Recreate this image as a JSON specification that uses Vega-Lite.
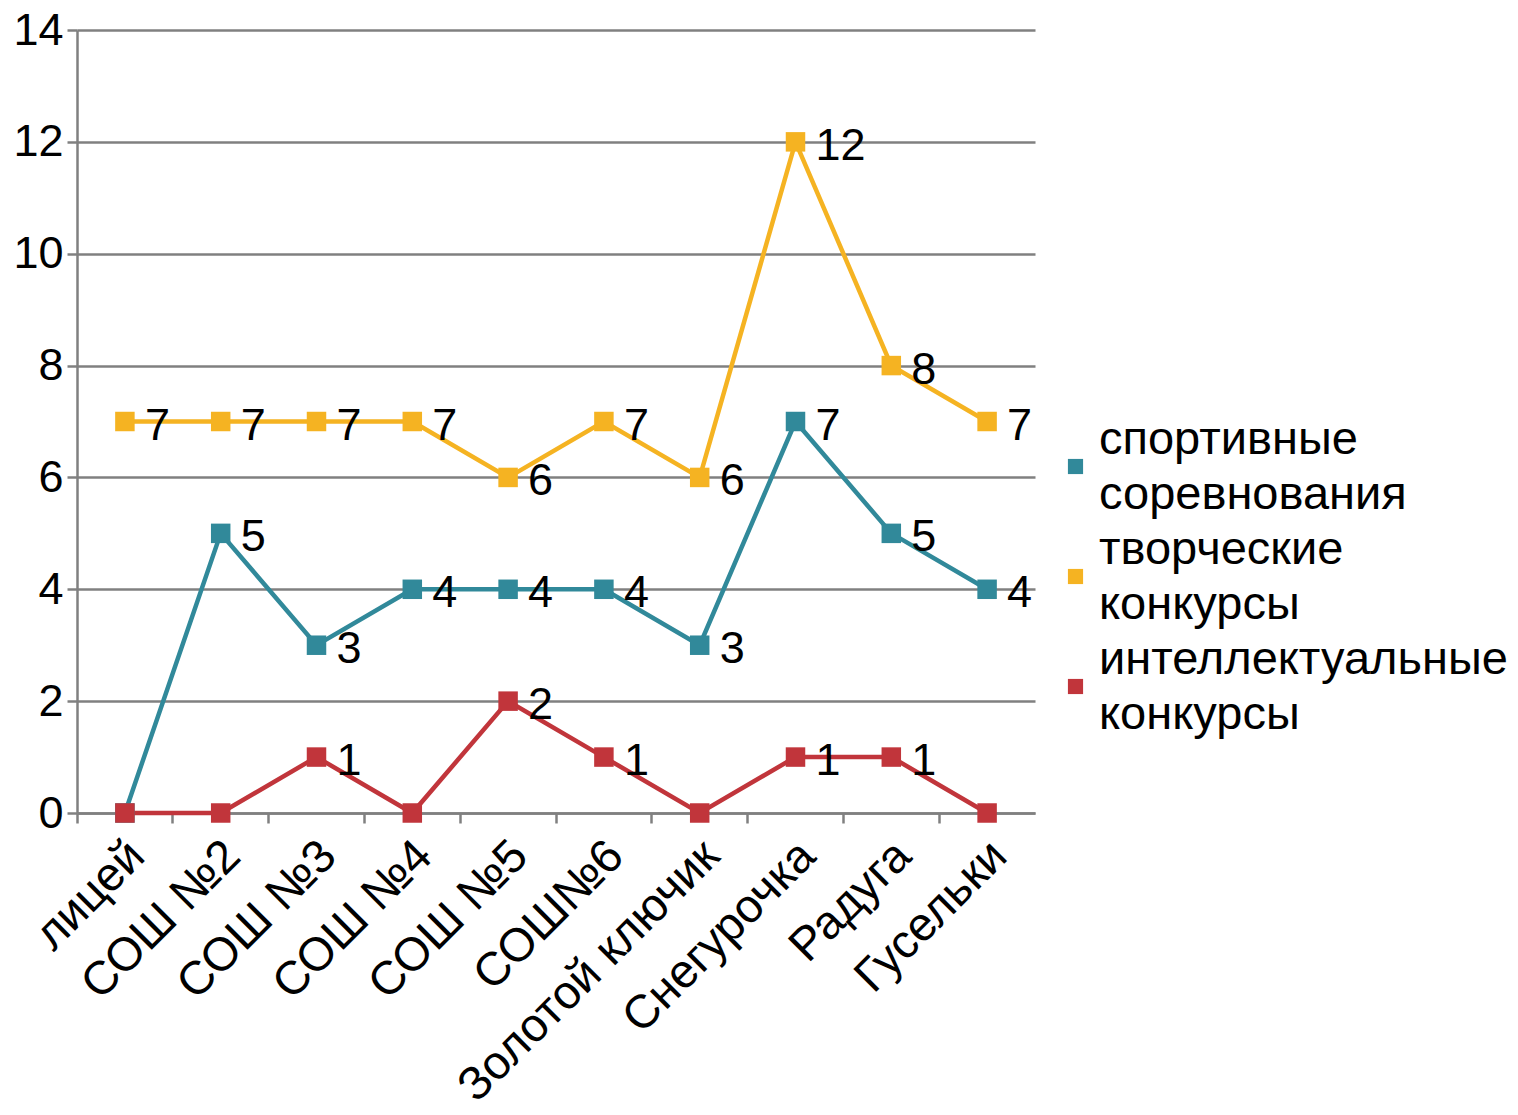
{
  "$schema": "https://vega.github.io/schema/vega-lite/v6.json",
  "width": 958,
  "height": 783,
  "autosize": {"type": "none"},
  "padding": {"left": 77, "top": 30, "right": 483, "bottom": 302},
  "background": "white",
  "config": {
    "view": {"stroke": null},
    "font": "Liberation Sans",
    "axis": {"labelFont": "Liberation Sans", "labelColor": "#000", "domainColor": "#808080", "tickColor": "#808080", "gridColor": "#808080", "domainWidth": 2.5, "tickWidth": 2.5, "gridWidth": 2.5}
  },
  "data": {
    "values": [
      {"school": "лицей", "series": "спортивные соревнования", "value": 0},
      {"school": "СОШ №2", "series": "спортивные соревнования", "value": 5},
      {"school": "СОШ №3", "series": "спортивные соревнования", "value": 3},
      {"school": "СОШ №4", "series": "спортивные соревнования", "value": 4},
      {"school": "СОШ №5", "series": "спортивные соревнования", "value": 4},
      {"school": "СОШ№6", "series": "спортивные соревнования", "value": 4},
      {"school": "Золотой ключик", "series": "спортивные соревнования", "value": 3},
      {"school": "Снегурочка", "series": "спортивные соревнования", "value": 7},
      {"school": "Радуга", "series": "спортивные соревнования", "value": 5},
      {"school": "Гусельки", "series": "спортивные соревнования", "value": 4},
      {"school": "лицей", "series": "творческие конкурсы", "value": 7},
      {"school": "СОШ №2", "series": "творческие конкурсы", "value": 7},
      {"school": "СОШ №3", "series": "творческие конкурсы", "value": 7},
      {"school": "СОШ №4", "series": "творческие конкурсы", "value": 7},
      {"school": "СОШ №5", "series": "творческие конкурсы", "value": 6},
      {"school": "СОШ№6", "series": "творческие конкурсы", "value": 7},
      {"school": "Золотой ключик", "series": "творческие конкурсы", "value": 6},
      {"school": "Снегурочка", "series": "творческие конкурсы", "value": 12},
      {"school": "Радуга", "series": "творческие конкурсы", "value": 8},
      {"school": "Гусельки", "series": "творческие конкурсы", "value": 7},
      {"school": "лицей", "series": "интеллектуальные конкурсы", "value": 0},
      {"school": "СОШ №2", "series": "интеллектуальные конкурсы", "value": 0},
      {"school": "СОШ №3", "series": "интеллектуальные конкурсы", "value": 1},
      {"school": "СОШ №4", "series": "интеллектуальные конкурсы", "value": 0},
      {"school": "СОШ №5", "series": "интеллектуальные конкурсы", "value": 2},
      {"school": "СОШ№6", "series": "интеллектуальные конкурсы", "value": 1},
      {"school": "Золотой ключик", "series": "интеллектуальные конкурсы", "value": 0},
      {"school": "Снегурочка", "series": "интеллектуальные конкурсы", "value": 1},
      {"school": "Радуга", "series": "интеллектуальные конкурсы", "value": 1},
      {"school": "Гусельки", "series": "интеллектуальные конкурсы", "value": 0}
    ]
  },
  "encoding": {
    "x": {
      "field": "school", "type": "nominal", "sort": null, "title": null,
      "scale": {"type": "band", "paddingInner": 0, "paddingOuter": 0},
      "axis": {"labelAngle": -45, "labelFontSize": 47, "labelAlign": "right", "labelBaseline": "top", "bandPosition": 0, "tickSize": 10, "labelPadding": 9, "labelOffset": -4, "grid": false, "labelLimit": 500}
    },
    "y": {
      "field": "value", "type": "quantitative", "title": null,
      "scale": {"domain": [0, 14], "nice": false},
      "axis": {"values": [0, 2, 4, 6, 8, 10, 12, 14], "labelFontSize": 45, "tickSize": 10, "labelPadding": 4, "grid": true}
    },
    "color": {
      "field": "series", "type": "nominal", "sort": null, "title": null,
      "scale": {"domain": ["спортивные соревнования", "творческие конкурсы", "интеллектуальные конкурсы"], "range": ["#31899A", "#F5B322", "#C1353B"]},
      "legend": {"orient": "none", "legendX": 975, "legendY": 413, "labelFontSize": 47, "labelColor": "#000", "labelExpr": "split(datum.label, ' ')", "symbolType": "square", "symbolSize": 230, "symbolStrokeWidth": 0, "rowPadding": 7, "labelOffset": 0, "labelLimit": 600,
        "encode": {"labels": {"update": {"lineHeight": {"value": 55}, "dy": {"value": -27}}}}}
    }
  },
  "layer": [
    {"mark": {"type": "line", "strokeWidth": 4.5}},
    {"mark": {"type": "point", "shape": "square", "filled": true, "opacity": 1, "size": 380}},
    {
      "transform": [{"filter": "datum.value > 0"}],
      "mark": {"type": "text", "align": "left", "baseline": "middle", "dx": 20, "dy": 4, "fontSize": 45, "color": "#000"},
      "encoding": {"text": {"field": "value", "type": "quantitative"}, "color": {"value": "#000"}}
    }
  ]
}
